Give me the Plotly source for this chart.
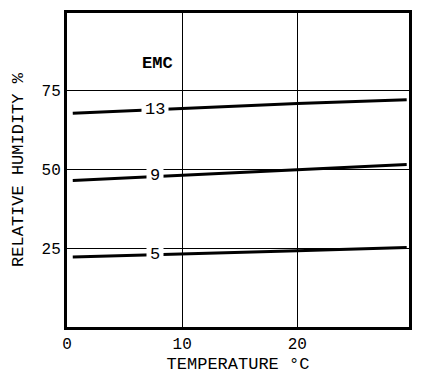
import plotly.graph_objects as go

temps = [0.5, 10, 20, 29.5]
emc_labels = ["13", "9", "5"]
rh_13 = [67.7, 69.2, 70.8, 72.0]
rh_9 = [46.4, 48.1, 49.8, 51.5]
rh_5 = [22.2, 23.1, 24.2, 25.2]
series = [rh_13, rh_9, rh_5]
label_x = 7.6
label_y = [69.0, 47.9, 22.9]

x_ticks = [0, 10, 20]
y_ticks = [25, 50, 75]

FONT = "Liberation Mono, Courier New, monospace"

fig = go.Figure()
for vals in series:
    fig.add_trace(go.Scatter(x=temps, y=vals, mode="lines",
                             line=dict(color="black", width=3), showlegend=False))

for lab, ly in zip(emc_labels, label_y):
    fig.add_annotation(x=label_x, y=ly, text=lab, showarrow=False,
                       bgcolor="white", font=dict(family=FONT, size=17, color="black"),
                       borderpad=3, xanchor="center", yanchor="middle")

fig.add_annotation(x=7.9, y=83.5, text="<b>EMC</b>", showarrow=False,
                   font=dict(family=FONT, size=17, color="black"))

# page body has an 8px default margin; the figure is sized to fill the rest
fig.update_layout(
    width=414, height=366,
    margin=dict(l=59, r=13, t=5, b=47, autoexpand=False),
    paper_bgcolor="white", plot_bgcolor="white",
    font=dict(family=FONT, color="black"),
    xaxis=dict(range=[0, 29.7], tickvals=x_ticks, ticks="", showgrid=True,
               gridcolor="black", gridwidth=1, showline=True, linecolor="black",
               linewidth=3, mirror=True, zeroline=False, automargin=False,
               tickfont=dict(size=16), title=dict(text="TEMPERATURE °C",
                                                  font=dict(size=17), standoff=6)),
    yaxis=dict(range=[0, 99.5], tickvals=y_ticks, ticks="", showgrid=True,
               gridcolor="black", gridwidth=1, showline=True, linecolor="black",
               linewidth=3, mirror=True, zeroline=False, automargin=False,
               tickfont=dict(size=16), title=dict(text="RELATIVE HUMIDITY %",
                                                  font=dict(size=17), standoff=14)),
)

fig.write_html("out.html")
